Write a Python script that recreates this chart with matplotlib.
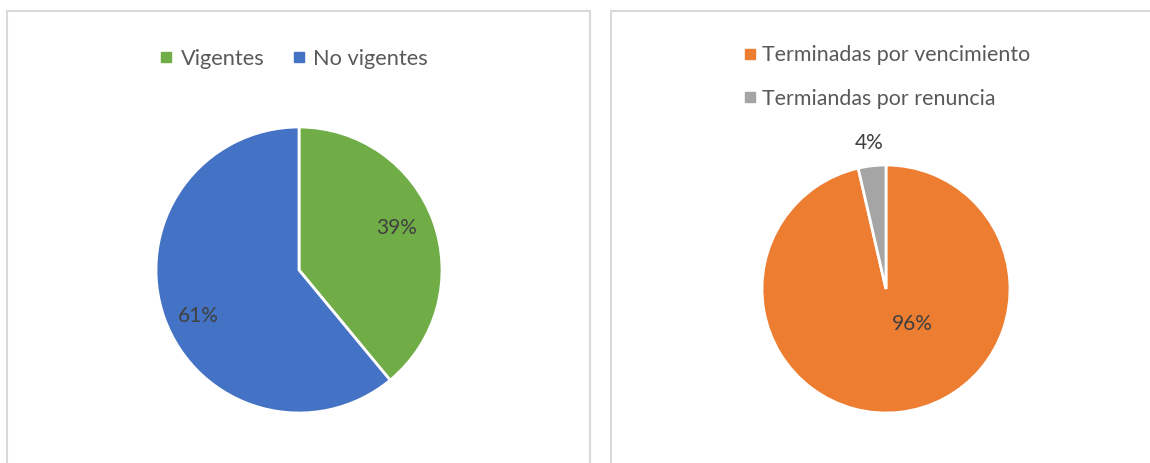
import matplotlib.pyplot as plt
from matplotlib.lines import Line2D
from matplotlib.patches import Rectangle
import numpy as np

plt.rcParams['font.family'] = ['Lato', 'DejaVu Sans']

# left chart
cat_left = ["Vigentes", "No vigentes"]
val_left = [39, 61]
col_left = ["#70AD47", "#4472C4"]

# right chart
cat_right = ["Terminadas por vencimiento", "Termiandas por renuncia"]
val_right = [96.4, 3.6]
col_right = ["#ED7D31", "#A5A5A5"]

W, H = 1150, 463
fig = plt.figure(figsize=(W / 100, H / 100), dpi=100)

# panel frames
border = "#D9D9D9"
fig.add_artist(Rectangle((7 / W, -0.05), 583 / W, 1.05 - 11 / H, transform=fig.transFigure,
                         fill=False, ec=border, lw=1.5))
fig.add_artist(Rectangle((611 / W, -0.05), 600 / W, 1.05 - 11 / H, transform=fig.transFigure,
                         fill=False, ec=border, lw=1.5))


def pie_axes(cx, cy, r):
    return fig.add_axes([(cx - r) / W, (H - cy - r) / H, 2 * r / W, 2 * r / H])


def draw_pie(ax, vals, cols, dists, shifts):
    wedges, _ = ax.pie(vals, colors=cols, startangle=90, counterclock=False,
                       wedgeprops=dict(edgecolor="white", linewidth=2))
    total = sum(vals)
    for w, v, d, s in zip(wedges, vals, dists, shifts):
        ang = np.deg2rad((w.theta1 + w.theta2) / 2 + s)
        ax.text(d * np.cos(ang), d * np.sin(ang), f"{round(v / total * 100):.0f}%",
                ha="center", va="center", fontsize=15, color="#404040")
    ax.set_xlim(-1, 1)
    ax.set_ylim(-1, 1)
    ax.axis("off")
    return wedges


axl = pie_axes(299, 270, 143)
draw_pie(axl, val_left, col_left, [0.745, 0.775], [3.4, 4.7])

axr = pie_axes(886, 289, 124)
draw_pie(axr, val_right, col_right, [0.355, 1.185], [31, 0])

handles_l = [Line2D([], [], marker="s", ls="none", color=c, markersize=7) for c in col_left]
fig.legend(handles_l, cat_left, loc="center", bbox_to_anchor=(294 / W, 1 - 59 / H), ncol=2,
           frameon=False, fontsize=15.7, labelcolor="#595959", handlelength=0.6,
           handletextpad=0.35, columnspacing=1.3)

handles_r = [Line2D([], [], marker="s", ls="none", color=c, markersize=7) for c in col_right]
fig.legend(handles_r, cat_right, loc="center left", bbox_to_anchor=(724 / W, 1 - 77 / H), ncol=1,
           frameon=False, fontsize=15.4, labelcolor="#595959", handlelength=0.6,
           handletextpad=0.3, labelspacing=1.1)

fig.savefig("out.png", dpi=100)
